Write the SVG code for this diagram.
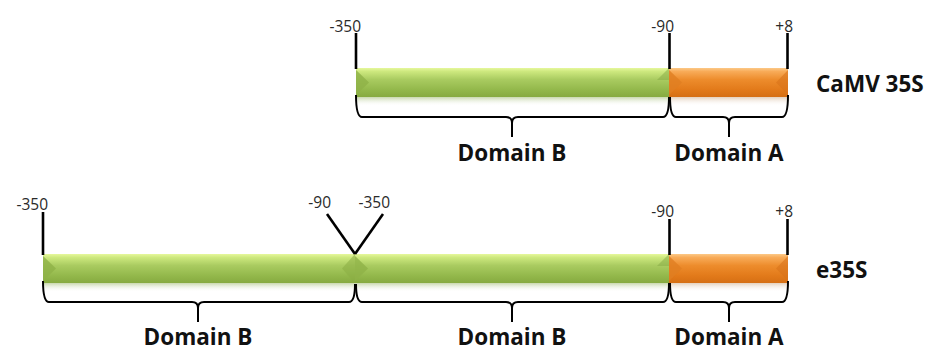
<svg xmlns="http://www.w3.org/2000/svg" width="943" height="352" viewBox="0 0 943 352">
  <defs>
    <linearGradient id="gGreen" x1="0" y1="0" x2="0" y2="1">
      <stop offset="0" stop-color="#e6f89c"/>
      <stop offset="0.12" stop-color="#cde87e"/>
      <stop offset="0.4" stop-color="#a9cb60"/>
      <stop offset="0.75" stop-color="#93b84b"/>
      <stop offset="1" stop-color="#86aa40"/>
    </linearGradient>
    <linearGradient id="gOrange" x1="0" y1="0" x2="0" y2="1">
      <stop offset="0" stop-color="#fcc987"/>
      <stop offset="0.12" stop-color="#f8ab58"/>
      <stop offset="0.4" stop-color="#ed8c2c"/>
      <stop offset="0.75" stop-color="#e27a1a"/>
      <stop offset="1" stop-color="#d56f14"/>
    </linearGradient>
    <linearGradient id="gShadeG" x1="0" y1="0" x2="0" y2="1">
      <stop offset="0" stop-color="#9cb86a" stop-opacity="0.55"/>
      <stop offset="1" stop-color="#ffffff" stop-opacity="0"/>
    </linearGradient>
    <linearGradient id="gShadeO" x1="0" y1="0" x2="0" y2="1">
      <stop offset="0" stop-color="#c9a27a" stop-opacity="0.5"/>
      <stop offset="1" stop-color="#ffffff" stop-opacity="0"/>
    </linearGradient>
  </defs>
  <style>
    .tick { stroke: #000; stroke-width: 2.6; fill: none; stroke-linecap: butt; }
    .brace { stroke: #000; stroke-width: 2; fill: none; }
    .num { font-family: "Open Sans", "Liberation Sans", sans-serif; font-size: 15.5px; fill: #2a2a2a; text-anchor: end; }
    .lbl { font-family: "Open Sans", "Liberation Sans", sans-serif; font-size: 22.5px; font-weight: bold; fill: #111; }
    .dom { text-anchor: middle; }
    .green { fill: url(#gGreen); }
    .orange { fill: url(#gOrange); }
  </style>

  <!-- ===== CaMV 35S ===== -->
  <g id="camv35s">
    <g id="camv-bars">
      <rect x="356" y="97" width="313" height="9" fill="url(#gShadeG)"/>
      <rect x="669" y="97" width="119" height="9" fill="url(#gShadeO)"/>
      <rect class="green" x="356" y="68" width="313" height="29"/>
      <polygon points="356,70 369,82.5 356,95" fill="#8fb247" opacity="0.8"/>
      <polygon points="669,68 657,80 669,80" fill="#86a943" opacity="0.5"/>
      <rect class="orange" x="669" y="68" width="119" height="29"/>
      <polygon points="669,70 682,82.5 669,95" fill="#e07e22" opacity="0.8"/>
      <polygon points="788,70 776,82.5 788,95" fill="#d9731a" opacity="0.6"/>
    </g>
    <g id="camv-marks">
      <line class="tick" x1="356" y1="33" x2="356" y2="69"/>
      <line class="tick" x1="669.5" y1="33" x2="669.5" y2="69"/>
      <line class="tick" x1="787.5" y1="33" x2="787.5" y2="69"/>
      <text class="num" x="361" y="32">-350</text>
      <text class="num" x="674" y="32">-90</text>
      <text class="num" x="793" y="32">+8</text>
    </g>
    <text class="lbl" x="816" y="92">CaMV 35S</text>
    <text class="lbl dom" x="512" y="161">Domain B</text>
    <text class="lbl dom" x="729" y="161">Domain A</text>
  </g>

  <!-- ===== e35S ===== -->
  <g id="e35s">
    <g id="e35s-bars">
      <rect x="43" y="283" width="626" height="9" fill="url(#gShadeG)"/>
      <rect x="669" y="283" width="119" height="9" fill="url(#gShadeO)"/>
      <rect class="green" x="43" y="254" width="313" height="29"/>
      <polygon points="43,256 56,268.5 43,281" fill="#8fb247" opacity="0.8"/>
      <polygon points="355,254 342,268.5 355,283" fill="#8aad44" opacity="0.55"/>
      <rect class="green" x="355" y="254" width="314" height="29"/>
      <polygon points="355,256 368,268.5 355,281" fill="#8fb247" opacity="0.8"/>
      <polygon points="669,254 657,266 669,266" fill="#86a943" opacity="0.5"/>
      <rect class="orange" x="669" y="254" width="119" height="29"/>
      <polygon points="669,256 682,268.5 669,281" fill="#e07e22" opacity="0.8"/>
      <polygon points="788,256 776,268.5 788,281" fill="#d9731a" opacity="0.6"/>
    </g>
    <g id="e35s-marks">
      <line class="tick" x1="43" y1="212" x2="43" y2="255"/>
      <line class="tick" x1="327" y1="214" x2="355" y2="254"/>
      <line class="tick" x1="383" y1="214" x2="355" y2="254"/>
      <line class="tick" x1="669.5" y1="219" x2="669.5" y2="255"/>
      <line class="tick" x1="787.5" y1="219" x2="787.5" y2="255"/>
      <text class="num" x="48" y="210">-350</text>
      <text class="num" x="331" y="208">-90</text>
      <text class="num" x="390" y="208">-350</text>
      <text class="num" x="674" y="217">-90</text>
      <text class="num" x="793" y="217">+8</text>
    </g>
    <text class="lbl" x="816" y="278">e35S</text>
    <text class="lbl dom" x="198" y="345">Domain B</text>
    <text class="lbl dom" x="512" y="345">Domain B</text>
    <text class="lbl dom" x="729" y="345">Domain A</text>
  </g>

  <!-- ===== braces under the domains ===== -->
  <g id="connectors">
    <path class="brace" d="M356,95 Q356,117 362,117 H506 Q512,117 512,123 V137 M512,137 V123 Q512,117 518,117 H663 Q669,117 669,97"/>
    <path class="brace" d="M670,97 Q670,117 676,117 H723 Q729,117 729,123 V137 M729,137 V123 Q729,117 735,117 H782 Q788,117 788,95"/>
    <path class="brace" d="M43,281 Q43,302 49,302 H192 Q198,302 198,308 V322 M198,322 V308 Q198,302 204,302 H349 Q355,302 355,284"/>
    <path class="brace" d="M356,284 Q356,302 362,302 H506 Q512,302 512,308 V322 M512,322 V308 Q512,302 518,302 H663 Q669,302 669,283"/>
    <path class="brace" d="M670,283 Q670,302 676,302 H723 Q729,302 729,308 V322 M729,322 V308 Q729,302 735,302 H782 Q788,302 788,281"/>
  </g>
</svg>
